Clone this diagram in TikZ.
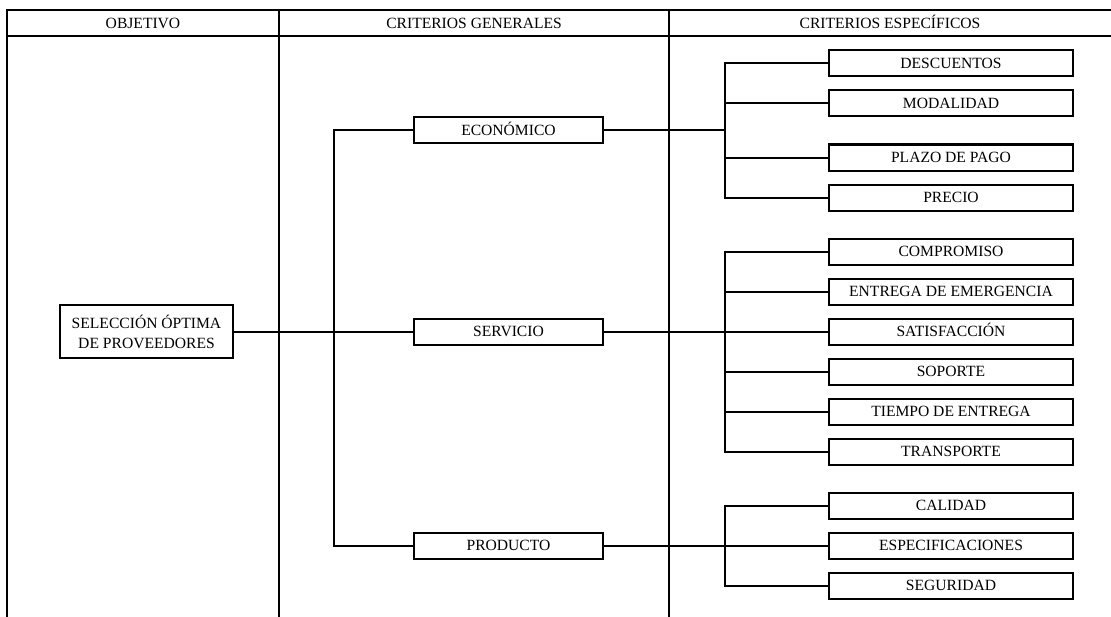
\documentclass[tikz,border=0pt]{standalone}
\usepackage{fontspec}
\setmainfont{Liberation Serif}
\usetikzlibrary{positioning}

\begin{document}
\begin{tikzpicture}[
  x=0.75pt,y=-0.75pt,line width=1.5pt,
  head/.style={inner sep=0pt,text height=7.75pt,text depth=0pt,font=\fontsize{11.7}{14}\selectfont},
  goal/.style={draw,minimum width=129.75pt,minimum height=39.75pt,align=center,inner sep=1pt,outer sep=0pt,font=\fontsize{11.7}{15}\selectfont},
  crit/.style={draw,minimum width=141.75pt,minimum height=19.5pt,inner sep=1pt,outer sep=0pt,text height=7.75pt,text depth=0pt,font=\fontsize{11.7}{14}\selectfont},
  sub/.style={draw,minimum width=183pt,minimum height=19.5pt,inner sep=1pt,outer sep=0pt,text height=7.75pt,text depth=0pt,font=\fontsize{11.7}{14}\selectfont}
]
\useasboundingbox (0,0) rectangle (1111,617);
% tabla
\draw (7,617) -- (7,10) -- (1111,10);
\draw (7,36) -- (1111,36);
\draw (279,10) -- (279,617);
\draw (669,10) -- (669,617);
\node[head] (hobj) at (143,23) {OBJETIVO};
\node[head] (hgen) at (474,23) {CRITERIOS GENERALES};
\node[head] (hesp) at (890,23) {CRITERIOS ESPECÍFICOS};
% objetivo y criterios generales
\node[goal] (sel) at (146.5,331.5) {SELECCIÓN ÓPTIMA\\DE PROVEEDORES};
\node[crit] (serv) at (508.5,331.5) {SERVICIO};
\node[crit,above=131.25pt of serv] (econ) {ECONÓMICO};
\node[crit,below=141pt of serv] (prod) {PRODUCTO};
% criterios especificos
\node[sub] (desc) at (951,63.5) {DESCUENTOS};
\node[sub,below=10.5pt of desc] (moda) {MODALIDAD};
\node[sub,below=21pt of moda] (plazo) {PLAZO DE PAGO};
\node[sub,below=10.5pt of plazo] (prec) {PRECIO};
\node[sub,below=21pt of prec] (comp) {COMPROMISO};
\node[sub,below=10.5pt of comp] (emer) {ENTREGA DE EMERGENCIA};
\node[sub,below=10.5pt of emer] (satis) {SATISFACCIÓN};
\node[sub,below=10.5pt of satis] (sop) {SOPORTE};
\node[sub,below=10.5pt of sop] (tiem) {TIEMPO DE ENTREGA};
\node[sub,below=10.5pt of tiem] (trans) {TRANSPORTE};
\node[sub,below=21pt of trans] (cal) {CALIDAD};
\node[sub,below=10.5pt of cal] (espec) {ESPECIFICACIONES};
\node[sub,below=10.5pt of espec] (seg) {SEGURIDAD};
% conexiones
\draw (sel) -- (serv);
\draw (econ.west) -- ++(-80,0) |- (prod.west);
\foreach \g in {econ,serv,prod} \draw (\g.east) -- ++(122,0);
\draw (desc.west) -- ++(-104,0) |- (prec.west);
\draw (comp.west) -- ++(-104,0) |- (trans.west);
\draw (cal.west) -- ++(-104,0) |- (seg.west);
\foreach \n in {moda,plazo,emer,satis,sop,tiem,espec} \draw (\n.west) -- ++(-104,0);
\end{tikzpicture}
\end{document}
